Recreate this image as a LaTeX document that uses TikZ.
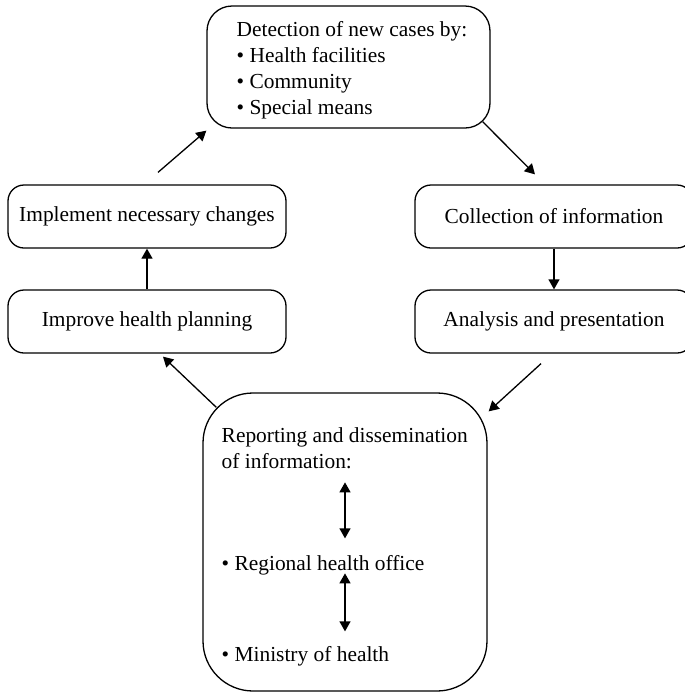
\documentclass[tikz,border=0pt]{standalone}
\usepackage{fontspec}
\setmainfont{Liberation Serif}
\usetikzlibrary{arrows.meta,calc}

\begin{document}
\begin{tikzpicture}[x=0.5pt, y=0.5pt, font=\fontsize{10.7}{13}\selectfont,
  box/.style={draw, line width=0.65pt, rounded corners=8pt, align=center, minimum width=139pt, minimum height=31.5pt, inner sep=0pt},
  txt/.style={anchor=base west, align=left, inner sep=0pt},
  arr/.style={-{Triangle[length=5pt, width=5.5pt]}, line width=0.65pt},
  dbl/.style={{Triangle[length=5pt, width=5.5pt]}-{Triangle[length=5pt, width=5.5pt]}, line width=0.65pt}]
  \useasboundingbox (0,0) rectangle (685,-693);
  \node[box, rounded corners=12.5pt, minimum width=141.5pt, minimum height=61pt] (detect) at (348.5,-67) {};
  \node[txt] (dtext) at ($(detect.north west)+(30,-109)$)
    {Detection of new cases by:\\• Health facilities\\• Community\\• Special means};
  \node[box] (impl) at (147,-216.5) {Implement necessary changes};
  \node[box] (improve) at (147,-321.5) {Improve health planning};
  \node[box] (collect) at (554,-216.5) {Collection of information};
  \node[box] (analysis) at (554,-321.5) {Analysis and presentation};
  \node[box, rounded corners=25pt, minimum width=142pt, minimum height=149pt] (report) at (345,-542) {};
  \node[txt] (rhead) at ($(report.north west)+(19,-76)$) {Reporting and dissemination\\of information:};
  \node[txt] (rreg) at ($(report.north west)+(19,-178)$) {• Regional health office};
  \node[txt] (rmin) at ($(report.north west)+(19,-269)$) {• Ministry of health};
  % cycle
  \draw[arr] ($(detect.south east)+(-8,7)$) -- ($(collect.north)+(-19,10)$);
  \draw[arr] (collect) -- (analysis);
  \draw[arr] ($(analysis.south)+(-13,-10)$) -- ($(report.north east)+(1,-19)$);
  \draw[arr] ($(report.north west)+(14,-15)$) -- ($(improve.south)+(16,-3)$);
  \draw[arr] (improve) -- (impl);
  \draw[arr] ($(impl.north)+(11,12)$) -- ($(detect.south west)+(0,-2)$);
  % inside the report box
  \draw[dbl] ($(report.north)+(0,-90)$) -- ($(report.north)+(0,-146)$);
  \draw[dbl] ($(report.north)+(0,-181)$) -- ($(report.north)+(0,-239)$);
\end{tikzpicture}
\end{document}
